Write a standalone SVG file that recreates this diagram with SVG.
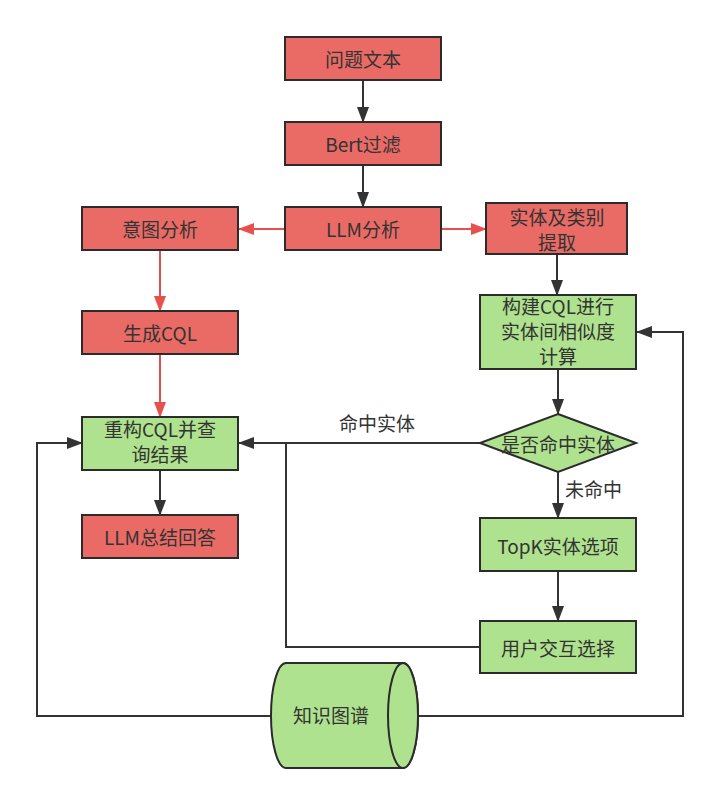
<svg xmlns="http://www.w3.org/2000/svg" width="717" height="805" viewBox="0 0 717 805">
<defs>
<style>
.red{fill:#EA6B66;stroke:#2B2B2B;stroke-width:2}
.grn{fill:#AFE28E;stroke:#2B2B2B;stroke-width:2}
.t{font-family:"Noto Sans CJK SC","Liberation Sans",sans-serif;font-size:19px;fill:#333333;text-anchor:middle}
.lb{font-family:"Noto Sans CJK SC","Liberation Sans",sans-serif;font-size:19px;fill:#333333}
.ck{fill:none;stroke:#333333;stroke-width:2}
.cr{fill:none;stroke:#E85050;stroke-width:2}
</style>
<marker id="ak" viewBox="0 0 16 12" refX="15" refY="6" markerWidth="16" markerHeight="12" markerUnits="userSpaceOnUse" orient="auto">
<path d="M0,0 L16,6 L0,12 Z" fill="#333333"/>
</marker>
<marker id="ar" viewBox="0 0 16 12" refX="15" refY="6" markerWidth="16" markerHeight="12" markerUnits="userSpaceOnUse" orient="auto">
<path d="M0,0 L16,6 L0,12 Z" fill="#E85050"/>
</marker>
</defs>
<rect width="717" height="805" fill="#ffffff"/>

<g id="connectors">
<path class="ck" d="M363,80 L363,122" marker-end="url(#ak)"/>
<path class="ck" d="M363,165 L363,207" marker-end="url(#ak)"/>
<path class="cr" d="M285,229 L239,229" marker-end="url(#ar)"/>
<path class="cr" d="M441,229 L486,229" marker-end="url(#ar)"/>
<path class="cr" d="M160,250 L160,311" marker-end="url(#ar)"/>
<path class="cr" d="M160,354 L160,417" marker-end="url(#ar)"/>
<path class="ck" d="M160,470 L160,515" marker-end="url(#ak)"/>
<path class="ck" d="M557,254 L557,295" marker-end="url(#ak)"/>
<path class="ck" d="M558,369 L558,414" marker-end="url(#ak)"/>
<path class="ck" d="M558,472 L558,518" marker-end="url(#ak)"/>
<path class="ck" d="M558,571 L558,621" marker-end="url(#ak)"/>
<path class="ck" d="M480,443 L239,443" marker-end="url(#ak)"/>
<path class="ck" d="M480,647 L286,647 L286,443"/>
<path class="ck" d="M271,716 L37,716 L37,443 L82,443" marker-end="url(#ak)"/>
<path class="ck" d="M418,716 L683,716 L683,332 L637,332" marker-end="url(#ak)"/>
<text class="t" x="377" y="431">命中实体</text>
<text class="lb" x="565" y="497">未命中</text>
</g>

<g id="n-wenti"><rect class="red" x="285" y="37" width="156" height="43"/><text class="t" x="363" y="67">问题文本</text></g>
<g id="n-bert"><rect class="red" x="285" y="122" width="156" height="43"/><text class="t" x="363" y="152">Bert过滤</text></g>
<g id="n-llm"><rect class="red" x="285" y="207" width="156" height="43"/><text class="t" x="363" y="237">LLM分析</text></g>
<g id="n-yitu"><rect class="red" x="82" y="207" width="156" height="43"/><text class="t" x="160" y="237">意图分析</text></g>
<g id="n-shiti"><rect class="red" x="486" y="203" width="141" height="51"/><text class="t" x="557" y="225">实体及类别</text><text class="t" x="557" y="250">提取</text></g>
<g id="n-cql"><rect class="red" x="82" y="311" width="156" height="43"/><text class="t" x="160" y="341">生成CQL</text></g>
<g id="n-chonggou"><rect class="grn" x="82" y="417" width="156" height="53"/><text class="t" x="160" y="437">重构CQL并查</text><text class="t" x="160" y="462">询结果</text></g>
<g id="n-zongjie"><rect class="red" x="82" y="515" width="156" height="43"/><text class="t" x="160" y="545">LLM总结回答</text></g>
<g id="n-goujian"><rect class="grn" x="480" y="295" width="156" height="74"/><text class="t" x="558" y="314">构建CQL进行</text><text class="t" x="558" y="339">实体间相似度</text><text class="t" x="558" y="364">计算</text></g>
<g id="n-mingzhong"><path class="grn" d="M558,414 L636,443 L558,472 L480,443 Z"/><text class="t" x="558" y="452">是否命中实体</text></g>
<g id="n-topk"><rect class="grn" x="480" y="518" width="156" height="53"/><text class="t" x="558" y="554">TopK实体选项</text></g>
<g id="n-yonghu"><rect class="grn" x="480" y="621" width="156" height="52"/><text class="t" x="558" y="656">用户交互选择</text></g>
<g id="n-kg">
<path class="grn" d="M286,663 L403,663 A15,52.5 0 0 1 403,768 L286,768 A15,52.5 0 0 1 286,663 Z"/>
<ellipse class="grn" cx="403" cy="715.5" rx="15" ry="52.5"/>
<text class="t" x="331" y="723">知识图谱</text>
</g>
</svg>
